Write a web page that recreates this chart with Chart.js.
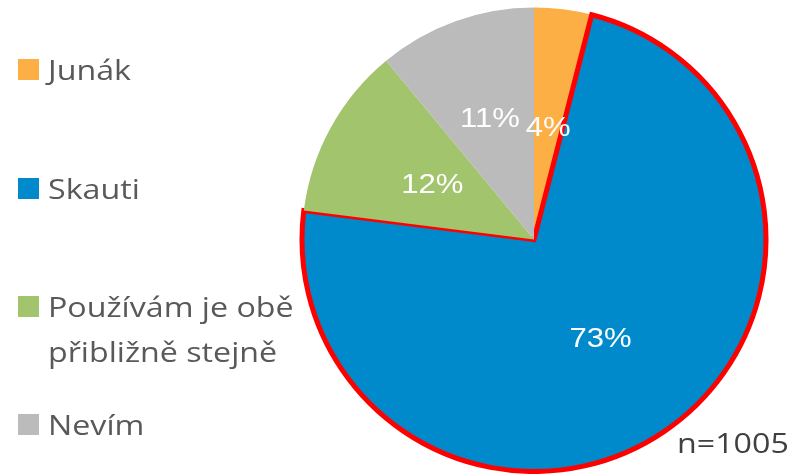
<!DOCTYPE html>
<html>
<head>
<meta charset="utf-8">
<script src="https://cdn.jsdelivr.net/npm/chart.js@4"></script>
<style>
html,body{margin:0;padding:0;background:#fff;}
#wrap{position:relative;width:803px;height:474px;}
</style>
</head>
<body>
<div id="wrap"><canvas id="c" width="803" height="474"></canvas></div>
<script>
const categories = ["Junák", "Skauti", "Používám je obě\npřibližně stejně", "Nevím"];
const values = [4, 73, 12, 11];
const valueLabels = ["4%", "73%", "12%", "11%"];
const colors = ["#FBAF45", "#0089CB", "#A2C46C", "#BBBBBB"];
const borderColors = ["#FBAF45", "#FF0000", "#A2C46C", "#BBBBBB"];
const borderWidths = [0, 5, 0, 0];
const labelRadiusFrac = [0.49, 0.51, 0.50, 0.56];
const noteText = "n=1005";

const legendY = [69, 188, 306, 424];
const SX = 1.15;

function stretchedText(ctx, txt, x, y, align) {
  ctx.save();
  ctx.translate(x, y);
  ctx.scale(SX, 1);
  ctx.textAlign = align;
  ctx.fillText(txt, 0, 0);
  ctx.restore();
}

const overlay = {
  id: 'overlay',
  afterDatasetsDraw(chart) {
    const ctx = chart.ctx;
    const meta = chart.getDatasetMeta(0);
    ctx.save();
    ctx.fillStyle = '#FFFFFF';
    ctx.font = '27px "Liberation Sans", Arial, sans-serif';
    ctx.textBaseline = 'middle';
    meta.data.forEach((arc, i) => {
      const p = arc.getProps(['x','y','startAngle','endAngle','outerRadius']);
      const mid = (p.startAngle + p.endAngle) / 2;
      const r = p.outerRadius * labelRadiusFrac[i];
      stretchedText(ctx, valueLabels[i], p.x + Math.cos(mid) * r, p.y + Math.sin(mid) * r + 2, 'center');
    });
    ctx.restore();
  },
  afterDraw(chart) {
    const ctx = chart.ctx;
    ctx.save();
    ctx.font = '28px "Open Sans", sans-serif';
    ctx.textBaseline = 'alphabetic';
    categories.forEach((c, i) => {
      const y = legendY[i];
      ctx.fillStyle = colors[i];
      ctx.fillRect(18, y - 10, 21, 21);
      ctx.fillStyle = '#595959';
      const lines = c.split('\n');
      lines.forEach((ln, j) => {
        stretchedText(ctx, ln, 48, y + 11 + j * 45, 'left');
      });
    });
    ctx.fillStyle = '#404040';
    ctx.font = '28px "Open Sans", sans-serif';
    stretchedText(ctx, noteText, 677, 453, 'left');
    ctx.restore();
  }
};

new Chart(document.getElementById('c'), {
  type: 'pie',
  data: {
    labels: categories,
    datasets: [{
      data: values,
      backgroundColor: colors,
      borderColor: borderColors,
      borderWidth: borderWidths,
      borderJoinStyle: 'miter'
    }]
  },
  options: {
    responsive: false,
    animation: false,
    layout: { padding: { left: 299, right: 34, top: 5, bottom: 0 } },
    plugins: { legend: { display: false }, tooltip: { enabled: false } }
  },
  plugins: [overlay]
});
</script>
</body>
</html>
